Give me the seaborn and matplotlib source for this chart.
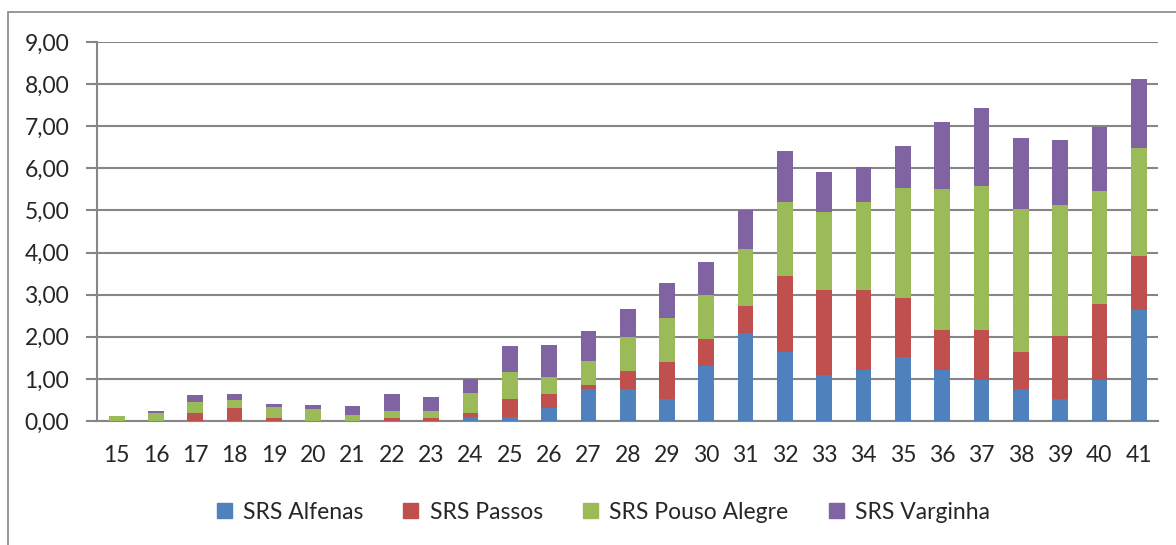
import numpy as np
import pandas as pd
import matplotlib
matplotlib.use("Agg")
import matplotlib.pyplot as plt
import seaborn as sns
from matplotlib.patches import Rectangle, Patch

# Weekly values
weeks = [str(w) for w in range(15, 42)]
alfenas = [0, 0, 0, 0, 0, 0, 0, 0, 0, 0.09, 0.10, 0.30, 0.76, 0.76, 0.53, 1.30, 2.09,
           1.65, 1.10, 1.20, 1.53, 1.20, 0.97, 0.76, 0.53, 0.97, 2.64]
passos = [0, 0, 0.19, 0.31, 0.08, 0, 0, 0.08, 0.08, 0.10, 0.42, 0.33, 0.10, 0.43, 0.87, 0.64, 0.64,
          1.80, 2.02, 1.92, 1.40, 0.96, 1.19, 0.87, 1.50, 1.82, 1.28]
pouso_alegre = [0.13, 0.19, 0.27, 0.20, 0.26, 0.28, 0.14, 0.16, 0.16, 0.47, 0.65, 0.41, 0.56, 0.80, 1.05, 1.05, 1.35,
                1.76, 1.85, 2.07, 2.61, 3.36, 3.41, 3.40, 3.11, 2.66, 2.57]
varginha = [0, 0.05, 0.16, 0.12, 0.06, 0.11, 0.21, 0.39, 0.33, 0.33, 0.60, 0.77, 0.72, 0.66, 0.83, 0.78, 0.94,
            1.21, 0.94, 0.83, 0.99, 1.59, 1.87, 1.70, 1.53, 1.53, 1.64]

names = ["SRS Alfenas", "SRS Passos", "SRS Pouso Alegre", "SRS Varginha"]
colors = ["#4F81BD", "#C0504D", "#9BBB59", "#8064A2"]

df = pd.DataFrame({"week": weeks, names[0]: alfenas, names[1]: passos,
                   names[2]: pouso_alegre, names[3]: varginha})
cum = df[names].cumsum(axis=1)

sns.set_style("white")
plt.rcParams["font.family"] = ["Lato", "DejaVu Sans"]

fig = plt.figure(figsize=(11.76, 5.45), dpi=100)
ax = fig.add_axes([0.0825, 0.2275, 0.9025, 0.6955])

# stacked look: draw cumulative totals from top series down
for name, c in zip(names[::-1], colors[::-1]):
    sns.barplot(x=df["week"], y=cum[name], color=c, width=0.4, saturation=1,
                linewidth=0, ax=ax, zorder=3)

ax.set_ylim(0, 9)
ax.set_xlim(-0.5, len(weeks) - 0.5)
ax.set_yticks(np.arange(0, 9.01, 1))
ax.set_yticklabels([f"{v:.2f}".replace(".", ",") for v in np.arange(0, 9.01, 1)])
ax.set_xlabel("")
ax.set_ylabel("")
ax.yaxis.grid(True, color="#868686", linewidth=1.5, zorder=0)
ax.set_axisbelow(True)

for s in ["top", "right"]:
    ax.spines[s].set_visible(False)
for s in ["left", "bottom"]:
    ax.spines[s].set_color("#868686")
    ax.spines[s].set_linewidth(1.5)

# category boundary ticks on x
ax.set_xticks(np.arange(-0.5, len(weeks), 1), minor=True)
ax.tick_params(axis="x", which="minor", length=8, width=1.5, color="#868686", direction="out")
ax.tick_params(axis="x", which="major", length=0, pad=17, labelsize=16.5)
ax.tick_params(axis="y", length=8, width=1.5, color="#868686", direction="out",
               pad=12, labelsize=16.5, left=True)

handles = [Patch(color=c, label=n) for n, c in zip(names, colors)]
fig.legend(handles=handles, loc="center", bbox_to_anchor=(0.513, 0.06), ncol=4,
           frameon=False, fontsize=16.5, handlelength=0.65, handleheight=0.65,
           columnspacing=1.75, handletextpad=0.5)

fig.patches.append(Rectangle((8 / 1176, -0.1), 1.2, 1 - 12 / 545 + 0.1,
                             transform=fig.transFigure, fill=False,
                             edgecolor="#868686", linewidth=1.2))

fig.savefig("out.png", dpi=100)
